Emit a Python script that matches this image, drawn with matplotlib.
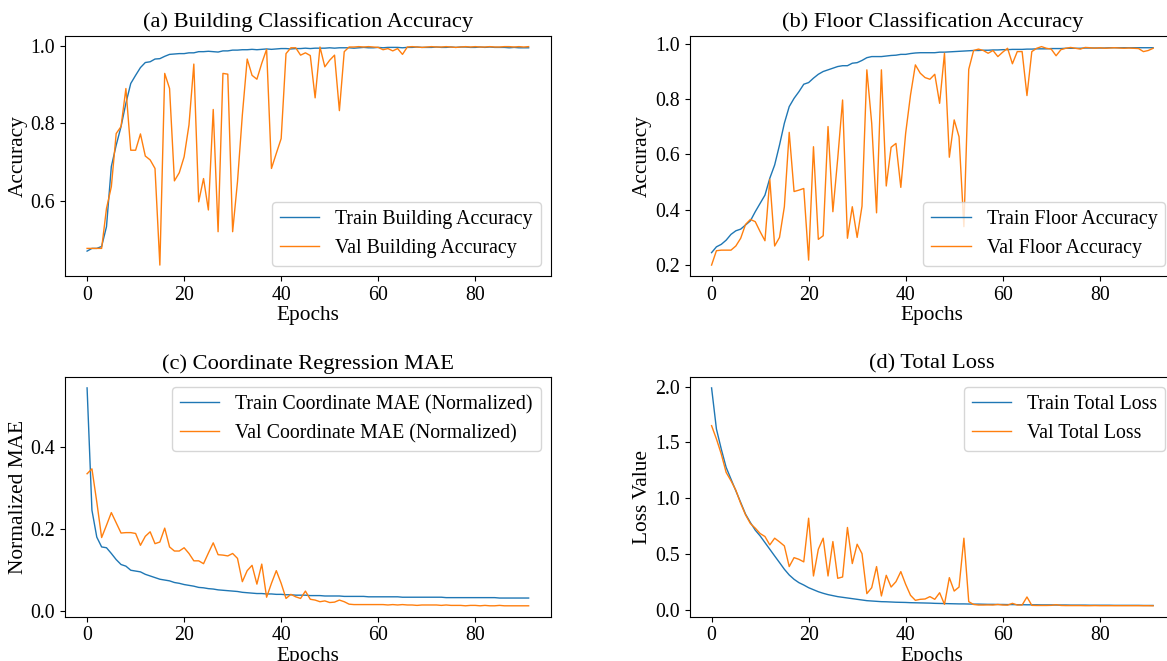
import numpy as np
import matplotlib
matplotlib.use("Agg")
import matplotlib.pyplot as plt

plt.rcParams['font.family'] = ['Liberation Serif', 'DejaVu Serif']

epochs = np.arange(92)

train_building_acc = [
    0.471, 0.478, 0.478, 0.483, 0.534, 0.689, 0.744, 0.792, 0.852, 0.903,
    0.924, 0.944, 0.957, 0.959, 0.966, 0.967, 0.973, 0.978, 0.979, 0.980,
    0.980, 0.982, 0.982, 0.985, 0.985, 0.986, 0.985, 0.984, 0.987, 0.987,
    0.989, 0.989, 0.990, 0.990, 0.991, 0.990, 0.991, 0.992, 0.991, 0.992,
    0.993, 0.993, 0.992, 0.993, 0.993, 0.994, 0.993, 0.994, 0.994, 0.994,
    0.995, 0.994, 0.995, 0.995, 0.995, 0.994, 0.995, 0.996, 0.995, 0.995,
    0.996, 0.995, 0.996, 0.996, 0.996, 0.995, 0.996, 0.996, 0.997, 0.996,
    0.996, 0.996, 0.997, 0.996, 0.996, 0.997, 0.996, 0.997, 0.997, 0.996,
    0.996, 0.997, 0.996, 0.997, 0.996, 0.996, 0.996, 0.995, 0.996, 0.995,
    0.995, 0.995]
val_building_acc = [
    0.478, 0.478, 0.478, 0.478, 0.581, 0.637, 0.774, 0.792, 0.890, 0.731,
    0.731, 0.773, 0.716, 0.706, 0.684, 0.435, 0.929, 0.890, 0.652, 0.673,
    0.714, 0.796, 0.953, 0.598, 0.658, 0.577, 0.836, 0.521, 0.929, 0.927,
    0.521, 0.650, 0.822, 0.966, 0.924, 0.914, 0.955, 0.991, 0.684, 0.723,
    0.761, 0.980, 0.995, 0.995, 0.976, 0.982, 0.975, 0.866, 0.997, 0.946,
    0.963, 0.976, 0.833, 0.985, 0.997, 0.997, 0.998, 0.997, 0.998, 0.997,
    0.996, 0.990, 0.993, 0.987, 0.993, 0.978, 0.997, 0.998, 0.997, 0.996,
    0.997, 0.998, 0.997, 0.997, 0.998, 0.997, 0.996, 0.997, 0.998, 0.997,
    0.998, 0.997, 0.997, 0.998, 0.997, 0.997, 0.998, 0.998, 0.997, 0.998,
    0.997, 0.998]

train_floor_acc = [
    0.245, 0.266, 0.275, 0.290, 0.311, 0.324, 0.330, 0.345, 0.360, 0.393,
    0.423, 0.453, 0.514, 0.562, 0.634, 0.713, 0.773, 0.803, 0.827, 0.854,
    0.860, 0.876, 0.890, 0.900, 0.906, 0.912, 0.918, 0.921, 0.921, 0.930,
    0.932, 0.940, 0.950, 0.954, 0.954, 0.954, 0.956, 0.958, 0.959, 0.962,
    0.962, 0.965, 0.967, 0.968, 0.968, 0.968, 0.968, 0.970, 0.970, 0.971,
    0.972, 0.973, 0.974, 0.975, 0.976, 0.976, 0.977, 0.977, 0.978, 0.978,
    0.979, 0.979, 0.980, 0.980, 0.980, 0.981, 0.981, 0.982, 0.982, 0.982,
    0.983, 0.983, 0.983, 0.984, 0.984, 0.984, 0.984, 0.985, 0.985, 0.985,
    0.985, 0.985, 0.986, 0.986, 0.986, 0.986, 0.986, 0.986, 0.986, 0.986,
    0.986, 0.986]
val_floor_acc = [
    0.200, 0.252, 0.254, 0.254, 0.254, 0.269, 0.297, 0.347, 0.365, 0.357,
    0.321, 0.288, 0.510, 0.269, 0.300, 0.411, 0.680, 0.466, 0.471, 0.477,
    0.218, 0.628, 0.293, 0.306, 0.701, 0.393, 0.586, 0.797, 0.297, 0.411,
    0.300, 0.413, 0.906, 0.713, 0.389, 0.906, 0.486, 0.626, 0.640, 0.481,
    0.677, 0.815, 0.924, 0.894, 0.878, 0.872, 0.890, 0.785, 0.966, 0.590,
    0.725, 0.664, 0.339, 0.908, 0.976, 0.981, 0.976, 0.966, 0.976, 0.954,
    0.970, 0.984, 0.928, 0.972, 0.972, 0.813, 0.972, 0.984, 0.990, 0.984,
    0.981, 0.957, 0.979, 0.984, 0.987, 0.984, 0.981, 0.987, 0.986, 0.984,
    0.986, 0.984, 0.985, 0.986, 0.985, 0.984, 0.985, 0.984, 0.983, 0.972,
    0.976, 0.984]

train_coord_mae = [
    0.545, 0.246, 0.180, 0.156, 0.154, 0.140, 0.125, 0.113, 0.109, 0.099,
    0.097, 0.095, 0.089, 0.085, 0.081, 0.077, 0.075, 0.073, 0.069, 0.067,
    0.064, 0.062, 0.060, 0.057, 0.056, 0.054, 0.053, 0.051, 0.050, 0.049,
    0.048, 0.047, 0.045, 0.044, 0.043, 0.042, 0.042, 0.041, 0.041, 0.040,
    0.040, 0.039, 0.039, 0.038, 0.038, 0.038, 0.037, 0.037, 0.037, 0.036,
    0.036, 0.036, 0.036, 0.035, 0.035, 0.035, 0.035, 0.035, 0.034, 0.034,
    0.034, 0.034, 0.034, 0.034, 0.034, 0.033, 0.033, 0.033, 0.033, 0.033,
    0.033, 0.033, 0.033, 0.033, 0.032, 0.032, 0.032, 0.032, 0.032, 0.032,
    0.032, 0.032, 0.032, 0.032, 0.032, 0.031, 0.031, 0.031, 0.031, 0.031,
    0.031, 0.031]
val_coord_mae = [
    0.335, 0.347, 0.266, 0.179, 0.209, 0.240, 0.215, 0.190, 0.191, 0.191,
    0.189, 0.160, 0.182, 0.193, 0.164, 0.168, 0.202, 0.156, 0.146, 0.146,
    0.154, 0.140, 0.122, 0.122, 0.115, 0.141, 0.166, 0.137, 0.136, 0.134,
    0.140, 0.128, 0.071, 0.098, 0.111, 0.065, 0.114, 0.033, 0.067, 0.098,
    0.067, 0.030, 0.040, 0.034, 0.030, 0.048, 0.028, 0.026, 0.022, 0.024,
    0.020, 0.021, 0.026, 0.022, 0.016, 0.015, 0.015, 0.015, 0.015, 0.015,
    0.015, 0.015, 0.014, 0.015, 0.014, 0.015, 0.014, 0.014, 0.013, 0.014,
    0.014, 0.014, 0.014, 0.013, 0.014, 0.013, 0.013, 0.013, 0.012, 0.013,
    0.013, 0.012, 0.013, 0.012, 0.012, 0.013, 0.012, 0.012, 0.012, 0.012,
    0.012, 0.012]

train_total_loss = [
    1.988, 1.620, 1.440, 1.277, 1.172, 1.067, 0.963, 0.858, 0.783, 0.715,
    0.664, 0.604, 0.544, 0.484, 0.425, 0.365, 0.314, 0.275, 0.245, 0.224,
    0.200, 0.182, 0.164, 0.150, 0.138, 0.129, 0.120, 0.114, 0.108, 0.102,
    0.096, 0.090, 0.084, 0.081, 0.078, 0.075, 0.074, 0.072, 0.070, 0.069,
    0.068, 0.066, 0.065, 0.064, 0.063, 0.062, 0.060, 0.059, 0.058, 0.057,
    0.056, 0.055, 0.055, 0.054, 0.053, 0.053, 0.052, 0.051, 0.051, 0.050,
    0.050, 0.049, 0.049, 0.048, 0.048, 0.047, 0.047, 0.047, 0.046, 0.046,
    0.046, 0.045, 0.045, 0.045, 0.044, 0.044, 0.044, 0.044, 0.043, 0.043,
    0.043, 0.043, 0.043, 0.042, 0.042, 0.042, 0.042, 0.042, 0.042, 0.041,
    0.041, 0.041]
val_total_loss = [
    1.650, 1.531, 1.396, 1.232, 1.157, 1.073, 0.954, 0.852, 0.774, 0.733,
    0.685, 0.658, 0.583, 0.643, 0.610, 0.574, 0.389, 0.469, 0.454, 0.431,
    0.822, 0.305, 0.544, 0.643, 0.305, 0.613, 0.284, 0.296, 0.739, 0.416,
    0.589, 0.505, 0.147, 0.200, 0.389, 0.126, 0.311, 0.206, 0.254, 0.344,
    0.230, 0.132, 0.087, 0.096, 0.099, 0.120, 0.096, 0.155, 0.051, 0.290,
    0.170, 0.206, 0.643, 0.075, 0.050, 0.045, 0.045, 0.046, 0.045, 0.050,
    0.045, 0.044, 0.060, 0.045, 0.045, 0.117, 0.042, 0.041, 0.041, 0.041,
    0.042, 0.048, 0.041, 0.040, 0.040, 0.040, 0.040, 0.039, 0.039, 0.040,
    0.039, 0.039, 0.039, 0.039, 0.039, 0.039, 0.039, 0.039, 0.039, 0.039,
    0.039, 0.038]

W, H = 1167, 661
fig = plt.figure(figsize=(W / 100, H / 100), dpi=100)

# axes boxes in pixels: left, top, width, height (right column runs off the canvas)
boxes = [(65, 35.7, 485.7, 240.3), (689.5, 35.7, 485.7, 240.3),
         (65, 377, 485.7, 239.7), (689.5, 377, 485.7, 239.7)]
axs = [fig.add_axes([l / W, (H - t - h) / H, w / W, h / H]) for l, t, w, h in boxes]

panels = [
    (train_building_acc, val_building_acc, "Train Building Accuracy", "Val Building Accuracy",
     "(a) Building Classification Accuracy", "Accuracy", "lower right"),
    (train_floor_acc, val_floor_acc, "Train Floor Accuracy", "Val Floor Accuracy",
     "(b) Floor Classification Accuracy", "Accuracy", "lower right"),
    (train_coord_mae, val_coord_mae, "Train Coordinate MAE (Normalized)", "Val Coordinate MAE (Normalized)",
     "(c) Coordinate Regression MAE", "Normalized MAE", "upper right"),
    (train_total_loss, val_total_loss, "Train Total Loss", "Val Total Loss",
     "(d) Total Loss", "Loss Value", "upper right"),
]

for ax, (tr, va, ltr, lva, title, ylab, loc) in zip(axs, panels):
    ax.plot(epochs, tr, color='#1f77b4', lw=1.0, label=ltr)
    ax.plot(epochs, va, color='#ff7f0e', lw=1.0, label=lva)
    ax.set_title(title, fontsize=16.2)
    ax.set_xlabel("Epochs", fontsize=15.4, labelpad=1)
    ax.set_ylabel(ylab, fontsize=15.4, labelpad=2)
    ax.tick_params(labelsize=14.3)
    ax.set_xticks([0, 20, 40, 60, 80])
    ax.legend(loc=loc, fontsize=14.3)

axs[2].set_yticks([0.0, 0.2, 0.4])

fig.savefig("out.png", dpi=100)
